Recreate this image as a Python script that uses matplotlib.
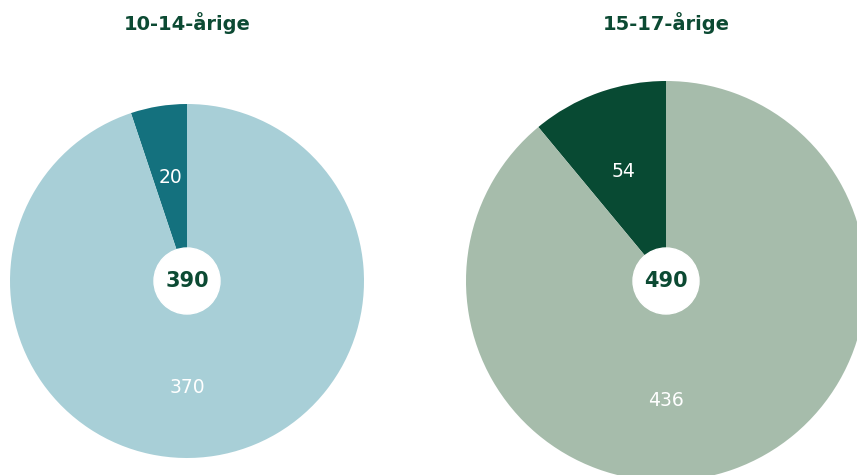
import matplotlib
matplotlib.use('Agg')
import matplotlib.pyplot as plt
import numpy as np
from matplotlib.patches import Circle

plt.rcParams['font.family'] = ['DejaVu Sans']

titles = ['10-14-årige', '15-17-årige']
small_vals = [20, 54]
large_vals = [370, 436]
totals = [390, 490]
small_colors = ['#14717e', '#084a33']
large_colors = ['#a8cfd7', '#a6bcab']
dark_green = '#0c4a33'

W, H = 857, 475
fig = plt.figure(figsize=(W / 100, H / 100), dpi=100)

# pie centres and radii in pixels (from top-left)
centres = [(187, 281, 177), (666, 281, 200)]

for i, (cx, cy, r) in enumerate(centres):
    ax = fig.add_axes([(cx - r) / W, (H - cy - r) / H, 2 * r / W, 2 * r / H])
    wedges, _ = ax.pie([small_vals[i], large_vals[i]],
                       colors=[small_colors[i], large_colors[i]],
                       startangle=90, counterclock=True, radius=1)
    # small slice label at its middle angle, large slice label straight below
    w = wedges[0]
    mid = np.deg2rad((w.theta1 + w.theta2) / 2 + 1.5 * i)
    ax.text(0.59 * np.cos(mid), 0.59 * np.sin(mid), str(small_vals[i]),
            ha='center', va='center', fontsize=13.5, color='white')
    ax.text(0, -0.6, str(large_vals[i]), ha='center', va='center',
            fontsize=13.5, color='white')
    hole = 33 / r
    ax.add_patch(Circle((0, 0), hole, color='white', zorder=5))
    ax.text(0, 0, str(totals[i]), ha='center', va='center', fontsize=15,
            fontweight='bold', color=dark_green, zorder=6)
    ax.set_xlim(-1, 1)
    ax.set_ylim(-1, 1)
    ax.set_aspect('equal')
    ax.axis('off')
    fig.text(cx / W, 1 - 23 / H, titles[i], ha='center', va='center',
             fontsize=14, fontweight='bold', color=dark_green)

fig.savefig('out.png', dpi=100)
